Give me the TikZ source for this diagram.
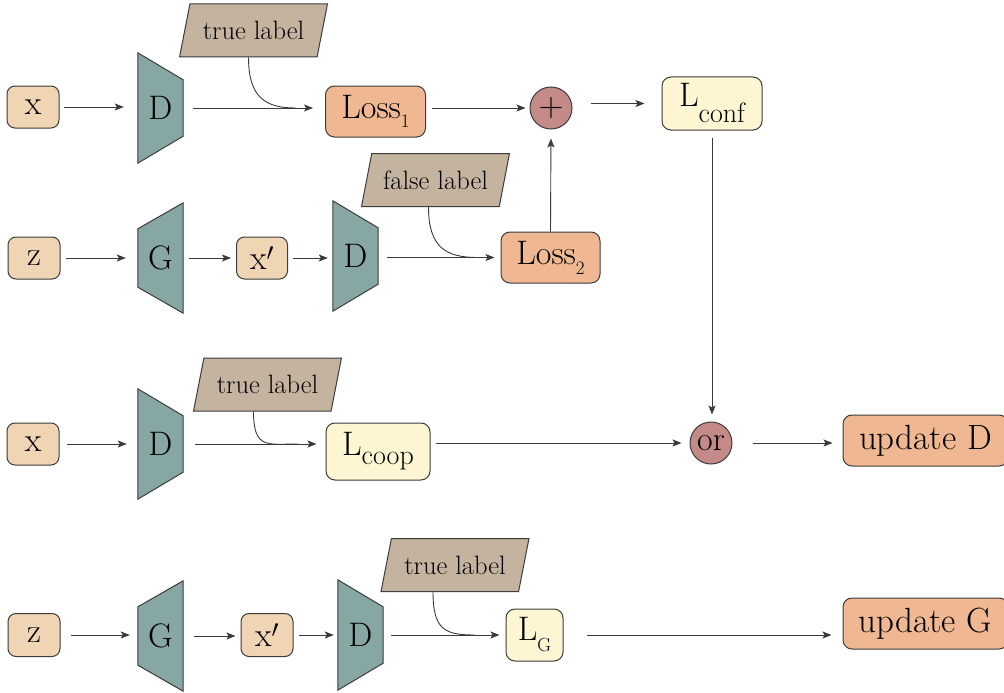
\documentclass[tikz,border=0pt]{standalone}
\usetikzlibrary{arrows.meta,backgrounds,shapes.geometric}

\definecolor{cEdge}{HTML}{3C3C3C}
\definecolor{cLine}{HTML}{3A3A3A}
\definecolor{cIn}{HTML}{EFD5B4}
\definecolor{cNet}{HTML}{87A7A5}
\definecolor{cLoss}{HTML}{EFB892}
\definecolor{cL}{HTML}{FEF5D3}
\definecolor{cTag}{HTML}{C4B49F}
\definecolor{cOp}{HTML}{C48A88}

\newcommand{\bigtxt}{\fontsize{34}{38}\selectfont}
\newcommand{\tagtxt}{\fontsize{26.5}{30}\selectfont}
\newcommand{\updtxt}{\fontsize{35}{40}\selectfont}
\newcommand{\subs}[2]{\raisebox{-#1pt}{\fontsize{19}{22}\selectfont #2}}
\newcommand{\subl}[2]{\raisebox{-#1pt}{\fontsize{28}{32}\selectfont #2}}

\tikzset{
  base/.style={draw=cEdge, line width=1pt, inner sep=0pt, text=black},
  inbox/.style={base, rounded corners=8pt, fill=cIn, minimum width=52pt, minimum height=42pt, font=\bigtxt},
  lossbox/.style={base, rounded corners=9pt, fill=cLoss, minimum width=100pt, minimum height=51pt, font=\bigtxt},
  lbox/.style={base, rounded corners=9pt, fill=cL, minimum height=53pt, font=\bigtxt},
  updbox/.style={base, rounded corners=9pt, fill=cLoss, minimum width=165pt, minimum height=51pt, font=\updtxt},
  opnode/.style={base, circle, fill=cOp, minimum size=42pt, font=\bigtxt},
  netbox/.style={inner sep=0pt, minimum width=45pt, minimum height=110pt, font=\bigtxt},
  tagbox/.style={base, trapezium, trapezium left angle=66, trapezium right angle=114,
    trapezium stretches=true, minimum width=148pt, minimum height=53pt, fill=cTag, font=\tagtxt},
  netshape/.style={draw=cEdge, line width=1pt, fill=cNet},
  arr/.style={draw=cLine, line width=0.9pt, -{Stealth[length=9pt,width=7pt,inset=2pt]}},
  feed/.style={draw=cLine, line width=0.9pt},
  gap/.style 2 args={shorten <=#1pt, shorten >=#2pt}
}

\begin{document}
\begin{tikzpicture}[x=1pt,y=-1pt]
\useasboundingbox (0,0) rectangle (1004,693);

% ---- row 1: real sample through D ----
\node[inbox] (x1) at (33,107) {x};
\node[netbox] (D1) at (160.5,108) {D};
\node[tagbox] (tl1) at (253.5,30.5) {true label};
\node[lossbox] (loss1) at (375.5,111.5) {Loss\subs{9}{1}};
\node[opnode] (plus) at (551,108) {+};
\node[lbox, minimum width=100pt] (lconf) at (712,103.5) {L\subl{16}{conf}};

% ---- row 2: generated sample through D ----
\node[inbox] (z2) at (34,258) {z};
\node[netbox] (G2) at (160.5,258) {G};
\node[inbox, minimum width=51pt] (xp2) at (262,258) {x$'$};
\node[netbox] (D2) at (355.5,256) {D};
\node[tagbox] (fl2) at (435.5,180) {false label};
\node[lossbox, minimum width=99pt] (loss2) at (550.5,257.5) {Loss\subs{10}{2}};

% ---- row 3: cooperative loss ----
\node[inbox] (x3) at (33,444) {x};
\node[netbox] (D3) at (160.5,444) {D};
\node[tagbox] (tl3) at (267.5,384.5) {true label};
\node[lbox, minimum width=104pt, minimum height=57pt] (lcoop) at (378,451.5) {L\subl{9}{coop}};
\node[opnode] (or) at (711,443) {or};
\node[updbox] (updD) at (925.5,440.5) {\raisebox{-4pt}{update\hspace{11pt}D}};

% ---- row 4: generator update ----
\node[inbox, minimum height=43pt] (z4) at (34,635) {z};
\node[netbox] (G4) at (160.5,636) {G};
\node[inbox, minimum height=43pt] (xp4) at (267,635) {x$'$};
\node[netbox] (D4) at (360.5,635) {D};
\node[tagbox] (tl4) at (455,565) {true label};
\node[lbox, minimum width=57pt, minimum height=52pt] (lg) at (534.5,635) {L\subs{11}{G}};
\node[updbox] (updG) at (925.5,623.5) {\raisebox{-4pt}{update\hspace{11pt}G}};

% ---- network bodies (D: wide input side, G: wide output side) ----
\begin{scope}[on background layer]
  \foreach \n in {D1,D2,D3,D4}
    \draw[netshape] (\n.north west) -- (\n.south west) -- ([yshift=27pt]\n.south east)
      -- ([yshift=-27pt]\n.north east) -- cycle;
  \foreach \n in {G2,G4}
    \draw[netshape] (\n.north east) -- (\n.south east) -- ([yshift=26pt]\n.south west)
      -- ([yshift=-26pt]\n.north west) -- cycle;
\end{scope}

% ---- connectors, row 1 ----
\draw[arr, gap={4}{14}] (x1.east) -- (x1.east -| D1.west);
\draw[arr, gap={10}{12}] (D1.east) -- (D1.east -| loss1.west);
\draw[feed] ([xshift=-5pt]tl1.south) .. controls +(0,40) and +(-30,0) .. ([xshift=42pt]tl1.south |- D1.east);
\draw[arr, gap={6}{4}] (plus.west -| loss1.east) -- (plus.west);
\draw[arr, gap={18}{17}] (plus.east |- lconf.west) -- (lconf.west);
\draw[arr, gap={0}{9}] (loss2.north) -- (plus.south);
\draw[arr, gap={7}{7}] (lconf.south) -- (lconf.south |- or.north);

% ---- connectors, row 2 ----
\draw[arr, gap={5}{12}] (z2.east) -- (z2.east -| G2.west);
\draw[arr, gap={6}{5}] (G2.east) -- (G2.east -| xp2.west);
\draw[arr, gap={5}{5}] (xp2.east) -- (xp2.east -| D2.west);
\draw[arr, gap={9}{6}] (D2.east |- loss2.west) -- (loss2.west);
\draw[feed] ([xshift=-7pt]fl2.south) .. controls +(0,40) and +(-32,0) .. ([xshift=42pt]fl2.south |- loss2.west);

% ---- connectors, row 3 ----
\draw[arr, gap={7}{11}] (x3.east) -- (x3.east -| D3.west);
\draw[arr, gap={12}{9}] (D3.east) -- (D3.east -| lcoop.west);
\draw[feed] ([xshift=-14pt]tl3.south) .. controls +(0,38) and +(-30,0) .. ([xshift=30pt]tl3.south |- D3.east);
\draw[arr, gap={5}{8}] (or.west -| lcoop.east) -- (or.west);
\draw[arr, gap={20}{10}] (or.east) -- (or.east -| updD.west);

% ---- connectors, row 4 ----
\draw[arr, gap={10}{8}] (z4.east) -- (z4.east -| G4.west);
\draw[arr, gap={11}{5}] (G4.east) -- (G4.east -| xp4.west);
\draw[arr, gap={5}{4}] (xp4.east) -- (xp4.east -| D4.west);
\draw[arr, gap={8}{6}] (D4.east) -- (D4.east -| lg.west);
\draw[feed] ([xshift=-22pt]tl4.south) .. controls +(0,38) and +(-30,0) .. ([xshift=20pt]tl4.south |- lg.west);
\draw[arr, gap={23}{11}] (lg.east) -- (lg.east -| updG.west);
\end{tikzpicture}
\end{document}
